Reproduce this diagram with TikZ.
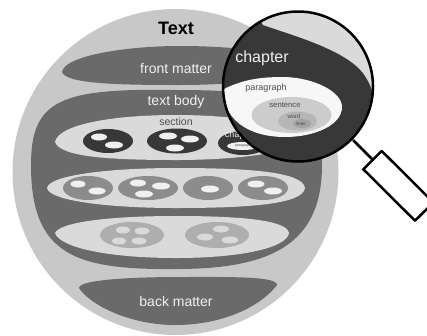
\documentclass[tikz,border=0pt]{standalone}
\usepackage{fontspec}
\setmainfont{Liberation Sans}
\definecolor{outergray}{HTML}{C8C8C8}
\definecolor{bodygray}{HTML}{6A6A6A}
\definecolor{rowgray}{HTML}{DADADA}
\definecolor{darkgray}{HTML}{383838}
\definecolor{midgray}{HTML}{8C8C8C}
\definecolor{softgray}{HTML}{AEAEAE}
\definecolor{palegray}{HTML}{F0F0F0}
\begin{document}
\begin{tikzpicture}[x=1pt,y=-1pt]
\tikzstyle{every node}+=[inner sep=0pt]
\tikzstyle{lighttext}=[text=palegray]
\tikzstyle{graytext}=[text=black!70]
\useasboundingbox (0,0) rectangle (427,335);
% big circle
\fill [outergray] (175.5,172) circle (163);
% front matter
\fill [bodygray] (62,72) .. controls (64,56) and (125,46) .. (180,46) .. controls (235,46) and (290,52) .. (292,68) .. controls (285,80) and (230,85) .. (180,85) .. controls (120,85) and (66,84) .. (62,72);
% text body
\fill [bodygray] (176,90) .. controls (60,88) and (31,100) .. (31,165) .. controls (31,255) and (75,270) .. (176,269) .. controls (270,269) and (322,245) .. (322,165) .. controls (322,100) and (280,90) .. (176,90);
% back matter
\fill [bodygray] (79,288) .. controls (79,279) and (140,277) .. (180,277) .. controls (230,277) and (277,276) .. (277,285) .. controls (262,305) and (225,325) .. (175,325) .. controls (130,325) and (90,305) .. (79,288);
% sections
\fill [rowgray] (55,142) .. controls (58,125) and (110,115) .. (176,115) .. controls (240,115) and (297,125) .. (300,140) .. controls (297,152) and (240,160) .. (176,160) .. controls (110,160) and (60,157) .. (55,142);
\fill [rowgray] (47,188) .. controls (49,175) and (110,168) .. (176,168) .. controls (250,168) and (303,172) .. (305,188) .. controls (303,204) and (250,208) .. (176,208) .. controls (110,208) and (49,201) .. (47,188);
\fill [rowgray] (55,233) .. controls (60,222) and (110,216) .. (176,216) .. controls (240,216) and (287,220) .. (289,233) .. controls (287,248) and (240,258) .. (176,258) .. controls (110,258) and (60,248) .. (55,233);
% first row
\fill [darkgray] (108,141) ellipse (25 and 12);
\fill [palegray] (99,137) ellipse (8 and 3.5);
\fill [palegray] (114,145) ellipse (9 and 3.5);
\fill [darkgray] (177,141) ellipse (30 and 12.5);
\fill [palegray] (168,136) ellipse (9 and 3.5);
\fill [palegray] (190,139) ellipse (9 and 3.5);
\fill [palegray] (175,148) ellipse (9 and 3.5);
\fill [darkgray] (243,143) ellipse (25 and 12);
\fill [palegray] (243,146) ellipse (16 and 4);
% second row
\fill [midgray] (88,188) ellipse (25 and 12);
\fill [palegray] (78,184) ellipse (7.5 and 3.5);
\fill [palegray] (97,191) ellipse (8.5 and 3.5);
\fill [midgray] (148,188) ellipse (30 and 12);
\fill [palegray] (138,183) ellipse (8 and 3.5);
\fill [palegray] (161,186) ellipse (9 and 3.5);
\fill [palegray] (144,194) ellipse (9 and 3.5);
\fill [midgray] (208,188) ellipse (25 and 12);
\fill [palegray] (210,189) ellipse (9 and 3.5);
\fill [midgray] (263,188) ellipse (25 and 12);
\fill [palegray] (256,184) ellipse (8.5 and 3.5);
\fill [palegray] (273,191) ellipse (9 and 3.5);
% third row
\fill [softgray] (132,235) ellipse (32 and 13);
\fill [rowgray] (123,230) ellipse (7 and 3.5);
\fill [rowgray] (142,231) ellipse (7.5 and 3.5);
\fill [rowgray] (119,241) ellipse (7 and 3.5);
\fill [rowgray] (139,241) ellipse (7.5 and 3.5);
\fill [softgray] (217,235) ellipse (32 and 13);
\fill [rowgray] (221,229) ellipse (8 and 3.5);
\fill [rowgray] (230,240) ellipse (8.5 and 3.5);
\fill [rowgray] (205,237) ellipse (8 and 3.5);
% labels
\node (text) at (176,28) {\fontsize{18}{18}\selectfont\bfseries Text};
\node [lighttext] (front) at (176,68) {\fontsize{14}{14}\selectfont front matter};
\node [lighttext] (body) at (176,102) {\fontsize{14}{14}\selectfont text body};
\node [graytext] (section) at (176,122) {\fontsize{10.5}{10.5}\selectfont section};
\node [lighttext] (smallchapter) at (240,135) {\fontsize{9}{9}\selectfont chapter};
\node [graytext] (smallparagraph) at (243,146) {\fontsize{3.5}{3.5}\selectfont paragraph};
\node [lighttext] (back) at (176,301) {\fontsize{14}{14}\selectfont back matter};
% handle
\coordinate (stemstart) at (353,140);
\coordinate (stemend) at (372,159);
\draw [black,line width=2.5pt] (stemstart) -- (stemend);
\draw [black,line width=2.5pt,fill=white,line join=round] (381.7,151) -- (433.4,202.4) -- (415,220.7) -- (363.3,169.3) -- cycle;
% lens
\begin{scope}
\clip (298,86.5) circle (75);
\fill [darkgray] (220,10) rectangle (376,165);
\fill [rowgray] (255,10) -- (263,25) .. controls (295,36) and (345,50) .. (363,73) .. controls (368,80) and (372,88) .. (373,95) -- (376,10) -- cycle;
\fill [white!97!black] (222,90) .. controls (245,78) and (265,77) .. (285,77) .. controls (315,78) and (342,92) .. (342,107) .. controls (342,125) and (315,137) .. (285,137) .. controls (255,137) and (225,125) .. (222,90);
\fill [gray!40] (291.5,115) ellipse (40 and 18);
\fill [softgray!90] (297.5,121) ellipse (19.5 and 9.5);
\fill [midgray!80] (302,123.5) ellipse (9 and 4.5);
\end{scope}
\node [lighttext] (chapter) at (262,58) {\fontsize{16}{16}\selectfont chapter};
\node [graytext] (paragraph) at (266,88) {\fontsize{9}{9}\selectfont paragraph};
\node [graytext] (sentence) at (285,105) {\fontsize{7.7}{7.7}\selectfont sentence};
\node [graytext] (word) at (294,116) {\fontsize{6}{6}\selectfont word};
\node [graytext] (letter) at (301,123.5) {\fontsize{4.3}{4.3}\selectfont letter};
\draw [black,line width=2.5pt] (298,86.5) circle (75);
\end{tikzpicture}
\end{document}
